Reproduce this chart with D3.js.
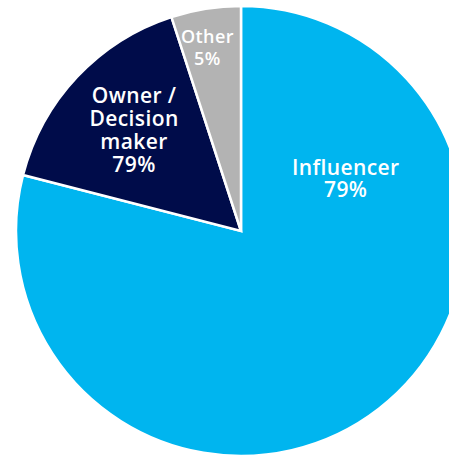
<!DOCTYPE html>
<html>
<head>
<meta charset="utf-8">
<script src="https://cdn.jsdelivr.net/npm/d3@7"></script>
<style>
  body { margin: 0; background: #fff; }
  svg { display: block; }
  .lbl { font-family: "Open Sans", sans-serif; font-weight: 600; fill: #fff; text-anchor: middle; }
</style>
</head>
<body>
<div id="chart"></div>
<script>
// chart data
let categories = ["Influencer", "Owner / Decision maker", "Other"];
let shares = [79, 16, 5];
// text shown on each slice (as printed in the source)
let labelLines = [["Influencer", "79%"], ["Owner /", "Decision", "maker", "79%"], ["Other", "5%"]];
let colors = ["#00b5ef", "#000c4a", "#b3b3b3"];

let svgWidth = 449;
let svgHeight = 456;
let cx = 241, cy = 231, radius = 225;

let svg = d3.select("#chart")
  .append("svg")
  .attr("width", svgWidth)
  .attr("height", svgHeight);

let g = svg.append("g")
  .attr("transform", `translate(${cx}, ${cy})`);

// influencer starts at 12 o'clock and runs clockwise, the rest follow
let pie = d3.pie()
  .sort(null)
  .value(d => d);

let arc = d3.arc()
  .innerRadius(0)
  .outerRadius(radius);

let arcs = pie(shares);

g.selectAll("path")
  .data(arcs)
  .enter()
  .append("path")
  .attr("d", arc)
  .attr("fill", (d, i) => colors[i])
  .attr("stroke", "#fff")
  .attr("stroke-width", 2.5)
  .attr("stroke-linejoin", "miter");

// label anchor per slice, offset from pie center (polar: degrees clockwise from top, distance)
let labelPolar = [[63.5, 117], [-46.7, 147], [-10.4, 186]];
let fontSizes = [21, 21, 18];
let lineHeights = [22, 23, 22];

arcs.forEach(function(d, i) {
  let a = labelPolar[i][0] * Math.PI / 180;
  let r = labelPolar[i][1];
  let x = Math.sin(a) * r;
  let y = -Math.cos(a) * r;
  let lines = labelLines[i];
  let lh = lineHeights[i];
  let top = y - (lines.length - 1) * lh / 2;
  let t = g.append("text")
    .attr("class", "lbl")
    .attr("font-size", fontSizes[i])
    .attr("letter-spacing", 0.4)
    .attr("x", x)
    .attr("y", top);
  lines.forEach(function(line, k) {
    t.append("tspan")
      .attr("x", x)
      .attr("y", top + k * lh)
      .attr("dy", "0.35em")
      .text(line);
  });
});
</script>
</body>
</html>
